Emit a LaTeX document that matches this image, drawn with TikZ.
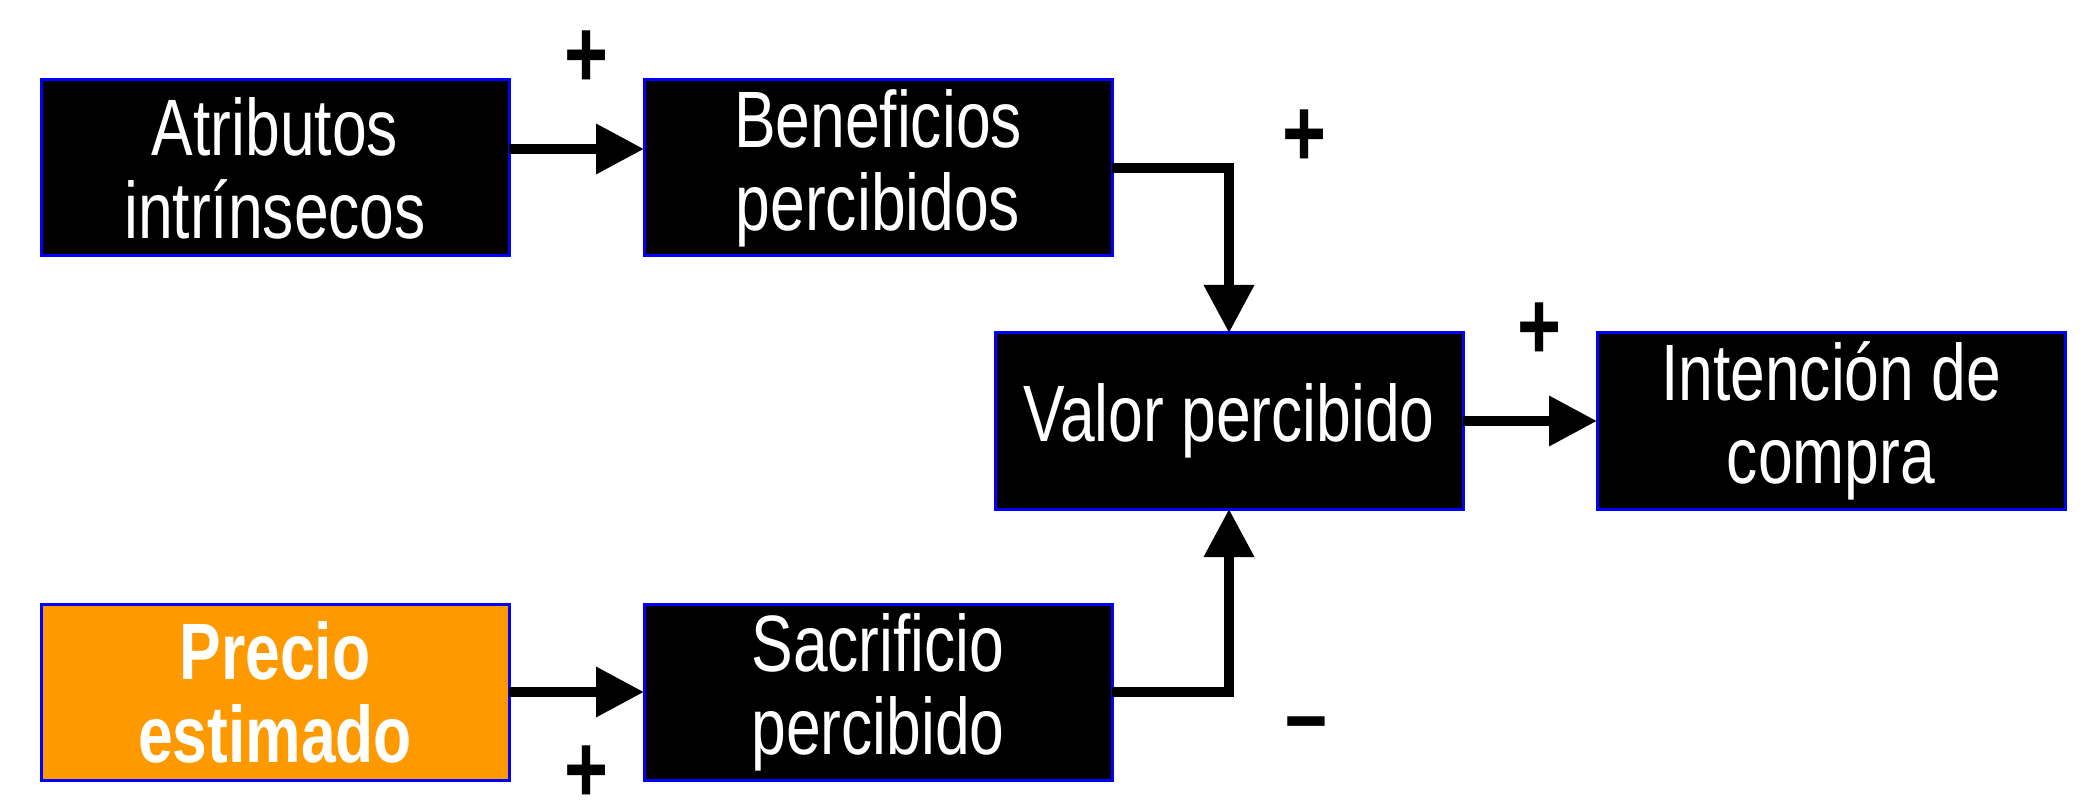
\documentclass[tikz,border=0pt]{standalone}
\usepackage{fontspec}
\setmainfont{Liberation Sans}[FakeStretch=0.78]
\usetikzlibrary{arrows.meta}
\definecolor{boxblue}{HTML}{0000FF}
\definecolor{orangefill}{HTML}{FF9900}
\tikzset{
  box/.style={draw=boxblue, line width=0.03cm, fill=black, text=white,
    minimum width=4.68cm, minimum height=1.76cm, inner sep=0pt, outer sep=0pt,
    align=center, font=\fontsize{22.76pt}{23.6pt}\selectfont},
  arr/.style={line width=0.1cm, -{Triangle[length=0.48cm, width=0.48cm]}},
  sign/.style={inner sep=0pt, font=\fontsize{27.5pt}{28pt}\selectfont\bfseries}
}
\begin{document}
\begin{tikzpicture}
\useasboundingbox (0,0) rectangle (20.9,-8);
\node[box] (atr) at (2.75,-1.68) {Atributos\\intrínsecos};
\node[box] (ben) at (8.78,-1.68) {Beneficios\\percibidos};
\node[box] (val) at (12.29,-4.21) {Valor percibido};
\node[box] (int) at (18.31,-4.21) {Intención de\\compra};
\node[box, fill=orangefill, font=\fontsize{22.76pt}{23.6pt}\selectfont\bfseries] (pre) at (2.75,-6.92) {Precio\\estimado};
\node[box] (sac) at (8.78,-6.92) {Sacrificio\\percibido};

\draw[arr] ([yshift=1.9mm]atr.east) -- ([yshift=1.9mm]ben.west);
\draw[arr] (ben.east) -| (val.north);
\draw[arr] (sac.east) -| (val.south);
\draw[arr] (pre.east) -- (sac.west);
\draw[arr] (val.east) -- (int.west);

\node[sign] (p1) at (5.87,-0.59) {+};
\node[sign] (p2) at (13.04,-1.38) {+};
\node[sign] (p3) at (15.39,-3.31) {+};
\node[sign] (p4) at (5.87,-7.74) {+};
\node[sign, anchor=base] (m1) at (13.06,-7.47) {–};
\end{tikzpicture}
\end{document}
